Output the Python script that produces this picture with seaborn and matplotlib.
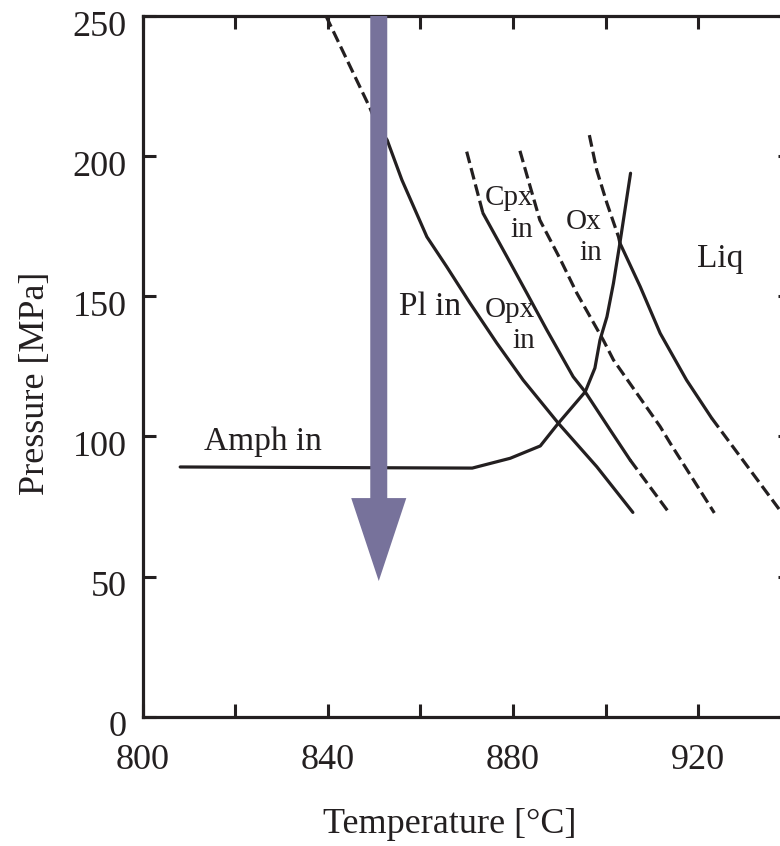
import matplotlib
matplotlib.use("Agg")
import matplotlib.pyplot as plt
import matplotlib.transforms as mtransforms
import seaborn as sns

# ---------------- data (Temperature °C, Pressure MPa) ----------------
pl_dash_T = [839.6, 849.1, 850.6]
pl_dash_P = [250.0, 217.2, 211.0]
pl_solid_T = [850.6, 852.8, 856.0, 861.4, 865.7, 870.7, 876.5, 882.2, 889.8, 898.1, 905.9]
pl_solid_P = [211.0, 205.8, 191.5, 171.2, 160.5, 147.6, 133.3, 120.1, 104.7, 89.2, 72.9]

opx_dash_top_T = [870.0, 873.5]
opx_dash_top_P = [201.6, 179.7]
opx_solid_T = [873.5, 878.7, 883.0, 887.3, 893.0, 895.6, 901.0, 905.3]
opx_solid_P = [179.7, 164.1, 151.1, 138.0, 121.3, 115.9, 102.3, 91.6]
opx_dash_bot_T = [905.3, 913.8]
opx_dash_bot_P = [91.6, 72.6]

cpx_dash_T = [881.5, 883.3, 885.8, 890.1, 893.8, 899.5, 901.7, 911.8, 914.0, 923.5]
cpx_dash_P = [201.9, 191.5, 177.2, 163.6, 151.1, 134.4, 127.3, 103.5, 97.5, 72.7]

ox_dash_top_T = [896.5, 898.1, 900.3, 902.8, 903.1]
ox_dash_top_P = [207.5, 195.0, 183.2, 171.2, 169.0]
ox_solid_T = [903.1, 907.5, 911.8, 917.5, 922.9]
ox_solid_P = [169.0, 153.4, 136.8, 120.1, 106.6]
ox_dash_bot_T = [922.9, 938.1]
ox_dash_bot_P = [106.6, 72.7]

amph_T = [808.1, 871.2, 879.4, 885.9, 889.8, 895.6, 897.7, 898.8, 900.3, 901.7, 903.1, 905.4]
amph_P = [89.1, 88.7, 92.2, 96.6, 104.7, 115.9, 124.4, 134.4, 142.7, 154.6, 169.0, 193.9]

arrow_T = 851.0
arrow_P = [250.0, 48.4]

x_ticks = [800, 820, 840, 860, 880, 900, 920, 940]
x_tick_labels = ["800", "", "840", "", "880", "", "920", ""]
y_ticks = [0, 50, 100, 150, 200, 250]
y_tick_labels = ["0", "50", "100", "150", "200", "250"]

# ---------------- style ----------------
sns.set_style("ticks")
plt.rcParams["font.family"] = ["Liberation Serif", "DejaVu Serif"]

ink = "#231f20"
arrow_color = "#77729b"
lw = 2.3
dashed = (0, (3.7, 1.6))

W, H = 780, 846
fig = plt.figure(figsize=(W / 100, H / 100), dpi=100)
ax = fig.add_axes([142.7 / W, (H - 716.7) / H, 648.0 / W, 700.7 / H])

segments = [
    (pl_dash_T, pl_dash_P, dashed),
    (pl_solid_T, pl_solid_P, "-"),
    (opx_dash_top_T, opx_dash_top_P, dashed),
    (opx_solid_T, opx_solid_P, "-"),
    (opx_dash_bot_T, opx_dash_bot_P, dashed),
    (cpx_dash_T, cpx_dash_P, dashed),
    (ox_dash_top_T, ox_dash_top_P, dashed),
    (ox_solid_T, ox_solid_P, "-"),
    (ox_dash_bot_T, ox_dash_bot_P, dashed),
    (amph_T, amph_P, "-"),
]
for T, P, ls in segments:
    sns.lineplot(x=T, y=P, ax=ax, sort=False, estimator=None,
                 color=ink, linewidth=lw, linestyle=ls)

# decompression arrow
ax.arrow(arrow_T, arrow_P[0], 0, arrow_P[1] - arrow_P[0],
         width=3.67, head_width=11.9, head_length=29.6,
         length_includes_head=True, color=arrow_color, lw=0, zorder=5)

# region labels
big = 24
small = 21
ax.text(826.0, 95.1, "Amph in", fontsize=big, color=ink, ha="center", va="baseline")
ax.text(862.1, 143.3, "Pl in", fontsize=big, color=ink, ha="center", va="baseline")
ax.text(924.7, 160.5, "Liq", fontsize=big, color=ink, ha="center", va="baseline")
ax.text(884.3, 182.6, "Cpx", fontsize=small, color=ink, ha="right", va="baseline")
ax.text(884.3, 171.2, "in", fontsize=small, color=ink, ha="right", va="baseline")
ax.text(884.8, 142.7, "Opx", fontsize=small, color=ink, ha="right", va="baseline")
ax.text(884.8, 131.4, "in", fontsize=small, color=ink, ha="right", va="baseline")
ax.text(899.2, 173.9, "Ox", fontsize=small, color=ink, ha="right", va="baseline")
ax.text(899.2, 162.9, "in", fontsize=small, color=ink, ha="right", va="baseline")

# axes
ax.set_xlim(800, 940)
ax.set_ylim(0, 250)
ax.set_xticks(x_ticks)
ax.set_xticklabels(x_tick_labels)
ax.set_yticks(y_ticks)
ax.set_yticklabels(y_tick_labels)
ax.tick_params(direction="in", length=9.4, width=2.2, top=True, right=True,
               labelsize=26, colors=ink)
ax.tick_params(axis="x", pad=20)
ax.tick_params(axis="y", pad=11.5)
offset = mtransforms.ScaledTranslation(0, -7 / 100, fig.dpi_scale_trans)
for lab in ax.get_yticklabels():
    lab.set_transform(lab.get_transform() + offset)
for sp in ax.spines.values():
    sp.set_linewidth(2.3)
    sp.set_color(ink)

ax.set_xlabel("Temperature [°C]", fontsize=26, color=ink)
ax.set_ylabel("Pressure [MPa]", fontsize=26, color=ink)
ax.xaxis.set_label_coords(0.474, -0.131)
ax.yaxis.set_label_coords(-0.140, 0.476)

fig.savefig("out.png", dpi=100)
